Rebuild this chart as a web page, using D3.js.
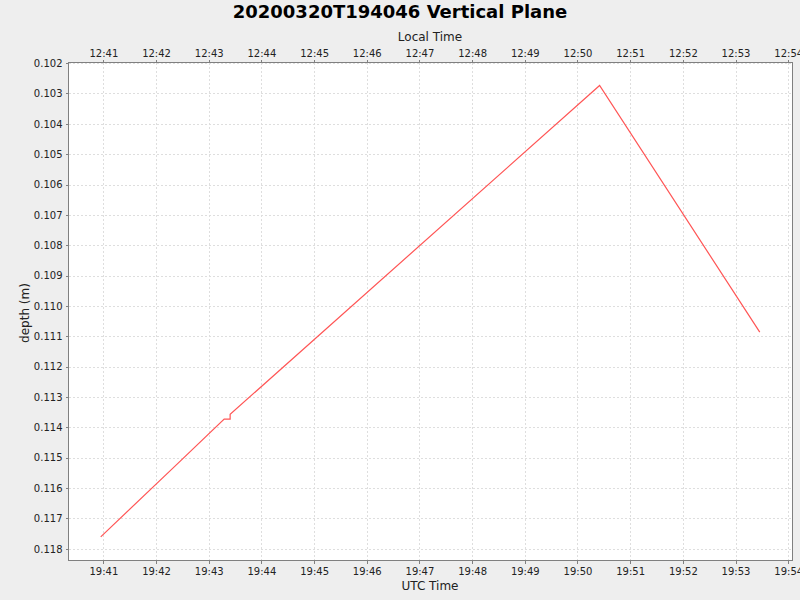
<!DOCTYPE html>
<html><head><meta charset="utf-8">
<script src="https://cdn.jsdelivr.net/npm/d3@7"></script>
<style>
body{margin:0;background:#eeeeee;}
svg{display:block;font-family:"DejaVu Sans",sans-serif;}
</style></head>
<body><svg id="c" width="800" height="600"></svg>
<script>
const titleText = "20200320T194046 Vertical Plane";
const utcTimes = ["19:40:57","19:42:24","19:43:17.6","19:43:24.4","19:43:24.4","19:50:25.2","19:53:27.6"];
const depths   = [0.117605, 0.11521, 0.11373, 0.11373, 0.11357, 0.102737, 0.110862];
const yTicks = [0.102,0.103,0.104,0.105,0.106,0.107,0.108,0.109,0.110,0.111,0.112,0.113,0.114,0.115,0.116,0.117,0.118];
const xDomain = ["19:40:20.3","19:54:04.9"];
const yDomain = [0.10198, 0.118385];
const localOffsetHours = -7;

const parse = s => { const [h,m,sec] = s.split(":"); return new Date(Date.UTC(2020,2,20,+h,+m,0) + (+sec)*1000); };
const data = utcTimes.map((t,i)=>({t:parse(t), d:depths[i]}));

const L=68.5, R=792.5, T=62.5, B=560.5;
const svg = d3.select("#c");
svg.append("rect").attr("width",800).attr("height",600).attr("fill","#eeeeee");
svg.append("rect").attr("x",L).attr("y",T).attr("width",R-L).attr("height",B-T).attr("fill","#ffffff");

const x = d3.scaleUtc().domain(xDomain.map(parse)).range([L,R]);
const xLocal = d3.scaleUtc().domain(xDomain.map(s=>new Date(parse(s).getTime()+localOffsetHours*3600000))).range([L,R]);
const y = d3.scaleLinear().domain(yDomain).range([T,B]);

const minuteTicks = x.ticks(d3.utcMinute.every(1));
const g = svg.append("g").attr("shape-rendering","crispEdges");
g.selectAll(".vg").data(minuteTicks).join("line")
  .attr("x1",d=>Math.round(x(d))+0.5).attr("x2",d=>Math.round(x(d))+0.5).attr("y1",T).attr("y2",B)
  .attr("stroke","#dedede").attr("stroke-dasharray","2,2").attr("stroke-width",1);
g.selectAll(".hg").data(yTicks).join("line")
  .attr("x1",L).attr("x2",R).attr("y1",d=>Math.round(y(d))+0.5).attr("y2",d=>Math.round(y(d))+0.5)
  .attr("stroke","#dedede").attr("stroke-dasharray","2,2").attr("stroke-width",1);

const fmt = d3.utcFormat("%H:%M");
const styleAxis = sel => {
  sel.select(".domain").remove();
  sel.selectAll(".tick line").attr("stroke","#808080").attr("shape-rendering","crispEdges");
  sel.selectAll(".tick text").attr("fill","#222").style("font-size","10px").style("font-family","DejaVu Sans");
};
svg.append("g").attr("transform",`translate(0,${B})`)
  .call(d3.axisBottom(x).ticks(d3.utcMinute.every(1)).tickFormat(fmt).tickSize(3).tickPadding(4)).call(styleAxis);
svg.append("g").attr("transform",`translate(0,${T})`)
  .call(d3.axisTop(xLocal).ticks(d3.utcMinute.every(1)).tickFormat(fmt).tickSize(3).tickPadding(3)).call(styleAxis);
svg.append("g").attr("transform",`translate(${L},0)`)
  .call(d3.axisLeft(y).tickValues(yTicks).tickFormat(d3.format(".3f")).tickSize(3).tickPadding(3)).call(styleAxis);

svg.append("rect").attr("x",L).attr("y",T).attr("width",R-L).attr("height",B-T)
  .attr("fill","none").attr("stroke","#808080").attr("stroke-width",1).attr("shape-rendering","crispEdges");

const line = d3.line().x(d=>x(d.t)).y(d=>y(d.d));
svg.append("path").datum(data).attr("d",line).attr("fill","none").attr("stroke","#ff5555").attr("stroke-width",1.2);

svg.append("text").attr("x",400).attr("y",18).attr("text-anchor","middle")
  .style("font-size","18px").style("font-weight","bold").attr("fill","#000").text(titleText);
svg.append("text").attr("x",430).attr("y",41).attr("text-anchor","middle").style("font-size","12px").attr("fill","#222").text("Local Time");
svg.append("text").attr("x",430).attr("y",590).attr("text-anchor","middle").style("font-size","12px").attr("fill","#222").text("UTC Time");
svg.append("text").attr("transform","translate(29,313) rotate(-90)").attr("text-anchor","middle").style("font-size","12px").attr("fill","#222").text("depth (m)");
</script></body></html>
